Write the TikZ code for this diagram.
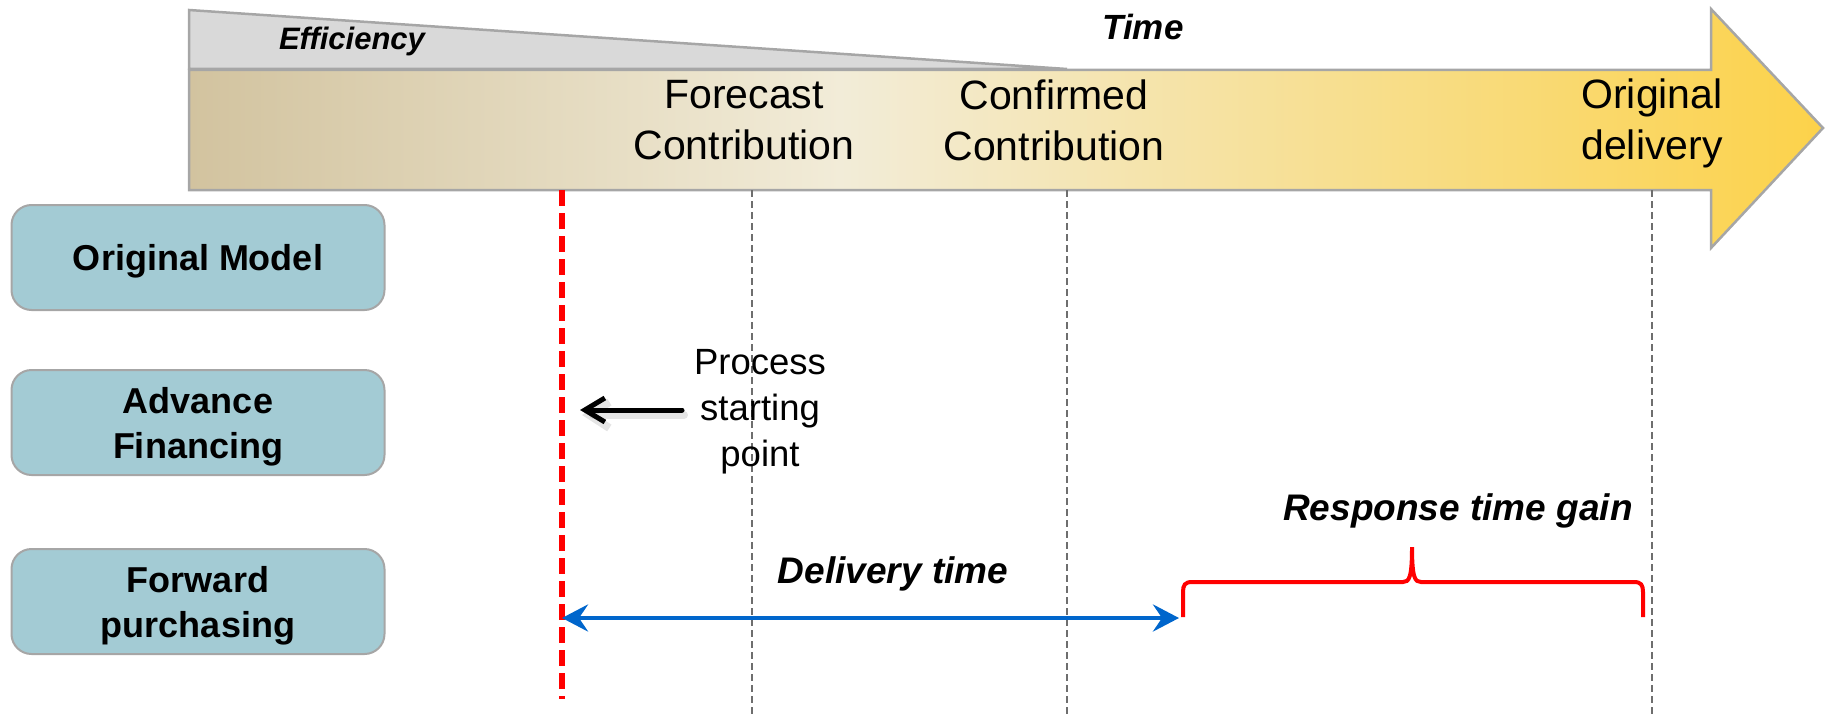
\documentclass[tikz,border=0pt]{standalone}
\usepackage{fontspec}
\setmainfont{Liberation Sans}
\usetikzlibrary{arrows.meta}
\definecolor{tanL}{HTML}{D2C39F}
\definecolor{creamM}{HTML}{F2ECD8}
\definecolor{goldR}{HTML}{FCD24A}
\definecolor{boxfill}{HTML}{A3CBD4}
\definecolor{boxline}{HTML}{A6A6A6}
\definecolor{outl}{HTML}{A6A6A6}
\definecolor{trifill}{HTML}{D9D9D9}
\definecolor{guide}{HTML}{6E6E6E}
\definecolor{bluearr}{HTML}{0066CC}
\begin{document}
\begin{tikzpicture}[x=1pt,y=-1pt,
  modelbox/.style={draw=boxline, line width=2pt, fill=boxfill, rounded corners=20pt,
    minimum width=373pt, minimum height=105pt, inner sep=0pt},
  boxlabel/.style={align=center, font=\fontsize{36}{45}\selectfont\bfseries, inner sep=0pt},
  milestone/.style={align=center, font=\fontsize{41}{51}\selectfont, inner sep=0pt},
  guideline/.style={guide, line width=2.5pt, dash pattern=on 7pt off 4pt},
  emphlabel/.style={font=\fontsize{37}{45}\selectfont\bfseries\itshape, inner sep=0pt, anchor=base},
  startline/.style={red, line width=6pt, dash pattern=on 16pt off 7pt},
]
\useasboundingbox (0,0) rectangle (1825,717);

% efficiency wedge
\draw[draw=outl, line width=2.5pt, fill=trifill, line join=miter]
  (189,10) -- (1067,69) -- (189,69) -- cycle;

% time arrow with gradient
\begin{scope}
  \clip (189,70) -- (1711,70) -- (1711,9) -- (1823,128) -- (1711,248) -- (1711,190) -- (189,190) -- cycle;
  \shade[left color=tanL, right color=creamM] (189,0) rectangle (841,250);
  \shade[left color=creamM, right color=goldR] (840,0) rectangle (1825,250);
\end{scope}
\draw[outl, line width=2.5pt, line join=miter]
  (189,70) -- (1711,70) -- (1711,9) -- (1823,128) -- (1711,248) -- (1711,190) -- (189,190) -- cycle;

\node[font=\fontsize{31}{37}\selectfont\bfseries\itshape, inner sep=0pt, anchor=base] (eff) at (352,50) {Efficiency};
\node[font=\fontsize{35}{42}\selectfont\bfseries\itshape, inner sep=0pt, anchor=base] (time) at (1143,40) {Time};

\node[milestone] (forecast) at (744,120) {Forecast\\Contribution};
\node[milestone] (confirmed) at (1054,120) {Confirmed\\Contribution};
\node[milestone] (origdel) at (1652,123) {Original\\delivery};

% guide lines
\coordinate (fcTop) at (752,190);  \coordinate (fcBot) at (752,717);
\coordinate (ccTop) at (1067,190); \coordinate (ccBot) at (1067,717);
\coordinate (odTop) at (1652,190); \coordinate (odBot) at (1652,717);
\draw[guideline] (fcTop) -- (fcBot);
\draw[guideline] (ccTop) -- (ccBot);
\draw[guideline] (odTop) -- (odBot);

% process starting line
\coordinate (startTop) at (562,190);
\coordinate (startBot) at (562,699);
\draw[startline] (startTop) -- (startBot);

% model boxes
\node[modelbox] (om) at (198,257.5) {};
\node[modelbox] (af) at (198,422.5) {};
\node[modelbox] (fp) at (198,601.5) {};
\node[boxlabel] (omt) at ([yshift=-4pt]om.center) {Original Model};
\node[boxlabel] (aft) at ([yshift=-4pt]af.center) {Advance\\Financing};
\node[boxlabel] (fpt) at ([yshift=-4pt]fp.center) {Forward\\purchasing};

% process starting point
\node[font=\fontsize{36.5}{46}\selectfont, align=center, inner sep=0pt] (proc) at (760,411.5) {Process\\starting\\point};
\coordinate (ptTail) at (682,410);
\coordinate (ptHead) at (580,410);
\draw[black, opacity=0.10, line width=8pt, line cap=round, -{Straight Barb[length=20pt,width=26pt]}]
  ([shift={(2,5)}]ptTail) -- ([shift={(2,5)}]ptHead);
\draw[black, line width=5pt, line cap=round, -{Straight Barb[length=20pt,width=24pt]}] (ptTail) -- (ptHead);

% delivery time
\node[emphlabel] (dt) at (893,583) {Delivery time};
\coordinate (dtL) at (562,618);
\coordinate (dtR) at (1179,618);
\draw[bluearr, line width=4.5pt, {Stealth[length=26pt,width=27pt,inset=9pt]}-{Stealth[length=26pt,width=27pt,inset=9pt]}] (dtL) -- (dtR);

% response time gain
\node[emphlabel] (rtg) at (1458,520) {Response time gain};
\coordinate (gainL) at (1183,617);
\coordinate (gainR) at (1643,617);
\coordinate (gainTip) at (1412,547);
\draw[red, line width=4pt]
  (gainL) -- (1183,592) .. controls (1183,585) and (1185,582) .. (1192,582)
  -- (1403,582) .. controls (1409,582) and (1412,578) .. (gainTip)
  .. controls (1412,578) and (1415,582) .. (1421,582)
  -- (1634,582) .. controls (1641,582) and (1643,585) .. (1643,592) -- (gainR);
\end{tikzpicture}
\end{document}
